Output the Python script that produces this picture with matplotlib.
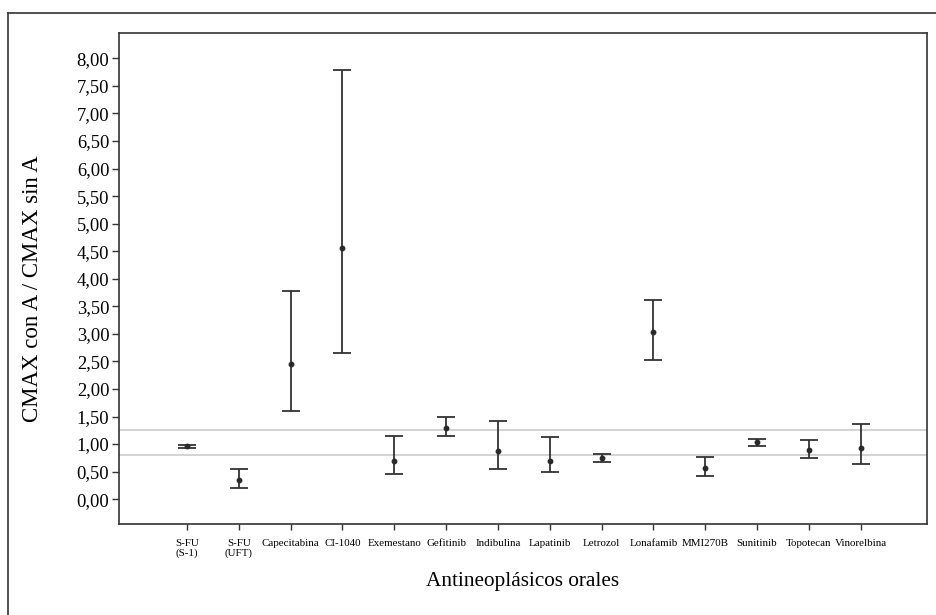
import matplotlib.pyplot as plt
from matplotlib.lines import Line2D
from matplotlib.ticker import FuncFormatter, MultipleLocator

# Data
drugs = ['S-FU\n(S-1)', 'S-FU\n(UFT)', 'Capecitabina', 'CI-1040', 'Exemestano',
         'Gefitinib', 'Indibulina', 'Lapatinib', 'Letrozol', 'Lonafamib',
         'MMI270B', 'Sunitinib', 'Topotecan', 'Vinorelbina']
ratio_mean = [0.96, 0.35, 2.46, 4.56, 0.70, 1.29, 0.88, 0.69, 0.75, 3.03,
              0.56, 1.03, 0.89, 0.93]
ci_low = [0.93, 0.20, 1.60, 2.65, 0.46, 1.14, 0.54, 0.50, 0.68, 2.53,
          0.42, 0.96, 0.74, 0.64]
ci_high = [0.99, 0.54, 3.77, 7.79, 1.14, 1.49, 1.42, 1.12, 0.82, 3.62,
           0.76, 1.10, 1.08, 1.37]
ref_lines = [0.80, 1.25]

plt.rcParams['font.family'] = ['Liberation Serif', 'DejaVu Serif']

fig = plt.figure(figsize=(9.37, 6.15), dpi=100)
ax = fig.add_axes([0.127, 0.148, 0.8623, 0.7983])

# outer frame (left and top only, rest is cropped in the original)
fig.add_artist(Line2D([8 / 937, 8 / 937], [0, 1 - 13 / 615], color='#333333', lw=1.2))
fig.add_artist(Line2D([8 / 937, 1], [1 - 13 / 615, 1 - 13 / 615], color='#333333', lw=1.2))

for r in ref_lines:
    ax.axhline(r, color='#c8c8c8', lw=1.1, zorder=1)

pos = list(range(1, len(drugs) + 1))
err_lo = [m - l for m, l in zip(ratio_mean, ci_low)]
err_hi = [h - m for m, h in zip(ratio_mean, ci_high)]
ax.errorbar(pos, ratio_mean, yerr=[err_lo, err_hi], fmt='o', color='#2a2a2a',
            ecolor='#333333', elinewidth=1.3, capsize=6.5, capthick=1.3,
            markersize=3.2, zorder=3)

ax.set_xlim(-0.31, 15.28)
ax.set_ylim(-0.45, 8.46)
ax.yaxis.set_major_locator(MultipleLocator(0.5))
ax.yaxis.set_major_formatter(FuncFormatter(lambda v, p: f'{v:.2f}'.replace('.', ',')))
ax.set_xticks(pos)
ax.set_xticklabels(drugs, fontsize=7.9, linespacing=1.0)

for s in ax.spines.values():
    s.set_color('#333333')
    s.set_linewidth(1.2)
ax.tick_params(axis='y', labelsize=13.3, length=5, width=1, color='#333333', pad=2)
ax.tick_params(axis='x', length=4, width=1, color='#333333', pad=7)

ax.set_ylabel('CMAX con A / CMAX sin A', fontsize=16.5)
ax.yaxis.set_label_coords(-0.094, 0.48)
ax.set_xlabel('Antineoplásicos orales', fontsize=15.3, labelpad=10)

fig.savefig('out.png', dpi=100)
